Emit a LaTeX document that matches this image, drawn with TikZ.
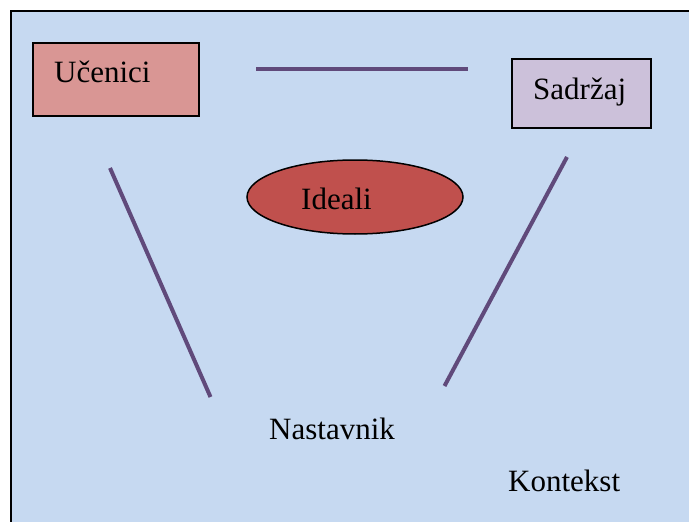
\documentclass[tikz,border=0pt]{standalone}
\usepackage{fontspec}
\setmainfont{Liberation Serif}
\usetikzlibrary{shapes.geometric}
\definecolor{bgblue}{HTML}{C6D9F1}
\definecolor{pinkbox}{HTML}{D99694}
\definecolor{lilacbox}{HTML}{CCC1DA}
\definecolor{redell}{HTML}{C0504D}
\definecolor{purpleline}{HTML}{604A7B}
\tikzset{
  boxshape/.style={draw=black, line width=2pt, rectangle, inner sep=0pt, anchor=north west},
  lbl/.style={font=\fontsize{31}{36}\selectfont, inner sep=0pt, anchor=base west, text=black},
  link/.style={draw=purpleline, line width=4pt}
}
\begin{document}
\begin{tikzpicture}[x=1pt,y=-1pt]
\useasboundingbox (0,0) rectangle (689,522);
\node[draw=black, line width=2.2pt, fill=bgblue, rectangle, inner sep=0pt, anchor=north west,
      minimum width=700pt, minimum height=530pt] (frame) at (9.5,9.5) {};
\node[boxshape, fill=pinkbox, minimum width=166pt, minimum height=73pt] (ubox) at (32,42) {};
\node[lbl] (utxt) at (54,82.7) {Učenici};
\node[boxshape, fill=lilacbox, minimum width=139pt, minimum height=69pt] (sbox) at (511,58) {};
\node[lbl] (stxt) at (533,99) {Sadržaj};
\node[draw=black, line width=1.5pt, fill=redell, ellipse, inner sep=0pt,
      minimum width=216pt, minimum height=74pt] (iell) at (355,197) {};
\node[lbl] (itxt) at (301,209) {Ideali};
\node[lbl] (ntxt) at (269,439) {Nastavnik};
\node[lbl] (ktxt) at (508,491.7) {Kontekst};
\coordinate (h1) at (256,69);
\coordinate (h2) at (468,69);
\coordinate (l1) at (110,168);
\coordinate (l2) at (210.5,397);
\coordinate (r1) at (567,157);
\coordinate (r2) at (444.5,386);
\draw[link] (h1) -- (h2);
\draw[link] (l1) -- (l2);
\draw[link] (r1) -- (r2);
\end{tikzpicture}
\end{document}
